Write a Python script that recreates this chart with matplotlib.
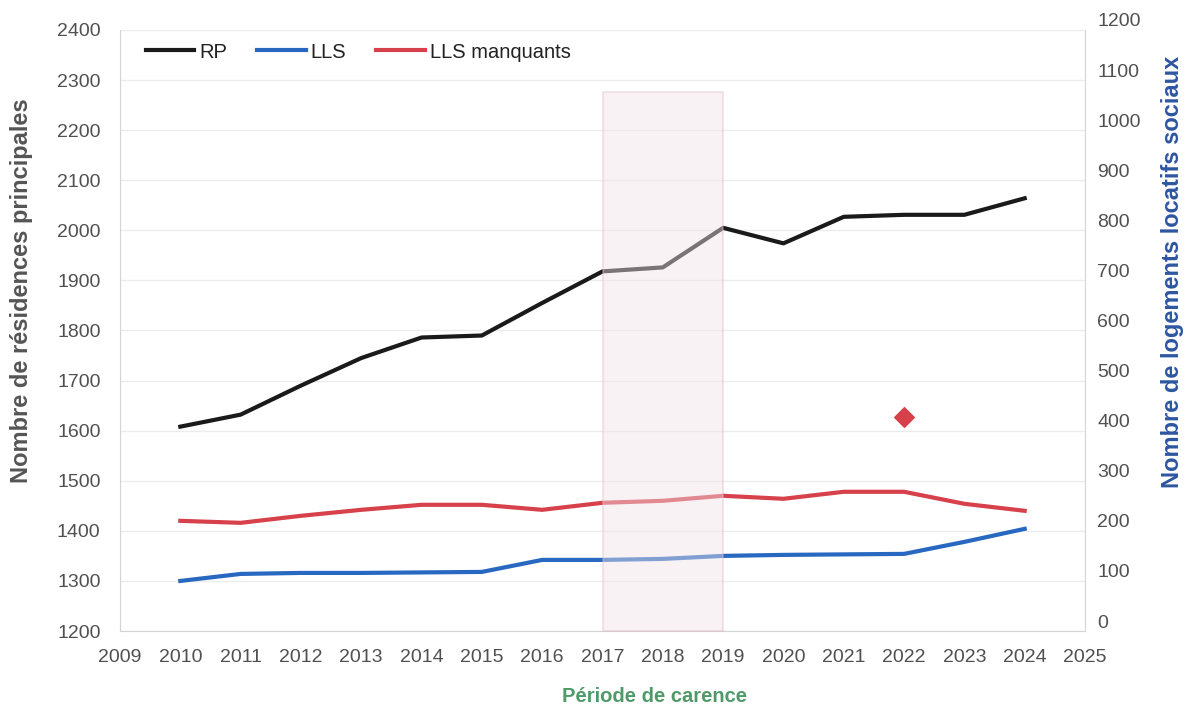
import matplotlib.pyplot as plt
from matplotlib.patches import Rectangle

# Data
years = [2010, 2011, 2012, 2013, 2014, 2015, 2016, 2017, 2018, 2019, 2020, 2021, 2022, 2023, 2024]
rp = [1608, 1632, 1690, 1745, 1786, 1790, 1855, 1918, 1926, 2005, 1974, 2027, 2031, 2031, 2064]
lls = [80, 94, 96, 96, 97, 98, 122, 122, 124, 130, 132, 133, 134, 158, 184]
lls_manquants = [200, 196, 210, 222, 232, 232, 222, 236, 240, 250, 244, 258, 258, 234, 220]
diamond_year = [2022]
diamond_value = [408]
carence = [2017, 2019]

plt.rcParams['font.family'] = ['Liberation Sans', 'DejaVu Sans']

W, H = 1189, 707
fig = plt.figure(figsize=(W / 100, H / 100), dpi=100)
# left axis: 1200 at y=631px, 2400 at y=30px
ax = fig.add_axes([120 / W, (H - 631) / H, 965 / W, 601 / H])
# right axis sits ~10px higher than the left one in the original
ax2 = fig.add_axes([120 / W, (H - 621) / H, 965 / W, 601 / H], sharex=ax)
ax2.patch.set_visible(False)
ax2.yaxis.tick_right()

ax.plot(years, rp, color='#1a1a1a', lw=3, label='RP')
ax2.plot(years, lls, color='#2868c0', lw=3, label='LLS')
ax2.plot(years, lls_manquants, color='#d6414b', lw=3, label='LLS manquants')
ax2.scatter(diamond_year, diamond_value, marker='D', s=100, color='#d6414b', zorder=5)

ax.set_xlim(2009, 2025)
ax.set_ylim(1200, 2400)
ax2.set_ylim(0, 1200)
ax.set_xticks(range(2009, 2026))
ax.set_yticks(range(1200, 2401, 100))
ax2.set_yticks(range(0, 1201, 100))

# Période de carence box, over the lines
rect = Rectangle((carence[0], 1200), carence[1] - carence[0], 1076, transform=ax.transData,
                 facecolor='#f2e4ea', alpha=0.45, edgecolor='#e2b9c6', lw=1.2, zorder=10, clip_on=False)
ax2.add_patch(rect)

ax.grid(axis='y', color='#ececec', lw=1)
ax.set_axisbelow(True)
for s in ax.spines.values():
    s.set_color('#d4d4d4')
ax.spines['top'].set_visible(False)
for s in ax2.spines.values():
    s.set_visible(False)
ax.tick_params(length=0, labelsize=14, colors='#505050')
ax.tick_params(axis='y', pad=14)
ax.tick_params(axis='x', pad=13)
ax2.tick_params(length=0, labelsize=14, colors='#505050', pad=9)
ax2.tick_params(axis='x', labelbottom=False)

fig.text(22 / W, 1 - 291 / H, 'Nombre de résidences principales', rotation=90, fontsize=17,
         fontweight='bold', color='#555555', ha='center', va='center')
fig.text(1172 / W, 1 - 272 / H, 'Nombre de logements locatifs sociaux', rotation=90, fontsize=17,
         fontweight='bold', color='#2e56a0', ha='center', va='center')
fig.text(655 / W, 1 - 697 / H, 'Période de carence', fontsize=14.5, fontweight='bold',
         color='#4f9a68', ha='center', va='center')

h1, l1 = ax.get_legend_handles_labels()
h2, l2 = ax2.get_legend_handles_labels()
leg = ax2.legend(h1 + h2, l1 + l2, loc='center left', ncol=3, frameon=False, fontsize=14.5,
                 handlelength=2.4, handletextpad=0.25, columnspacing=1.5,
                 bbox_to_anchor=(0.008, 1 - 32 / 601))
for t in leg.get_texts():
    t.set_color('#222222')

fig.savefig('out.png', dpi=100)
